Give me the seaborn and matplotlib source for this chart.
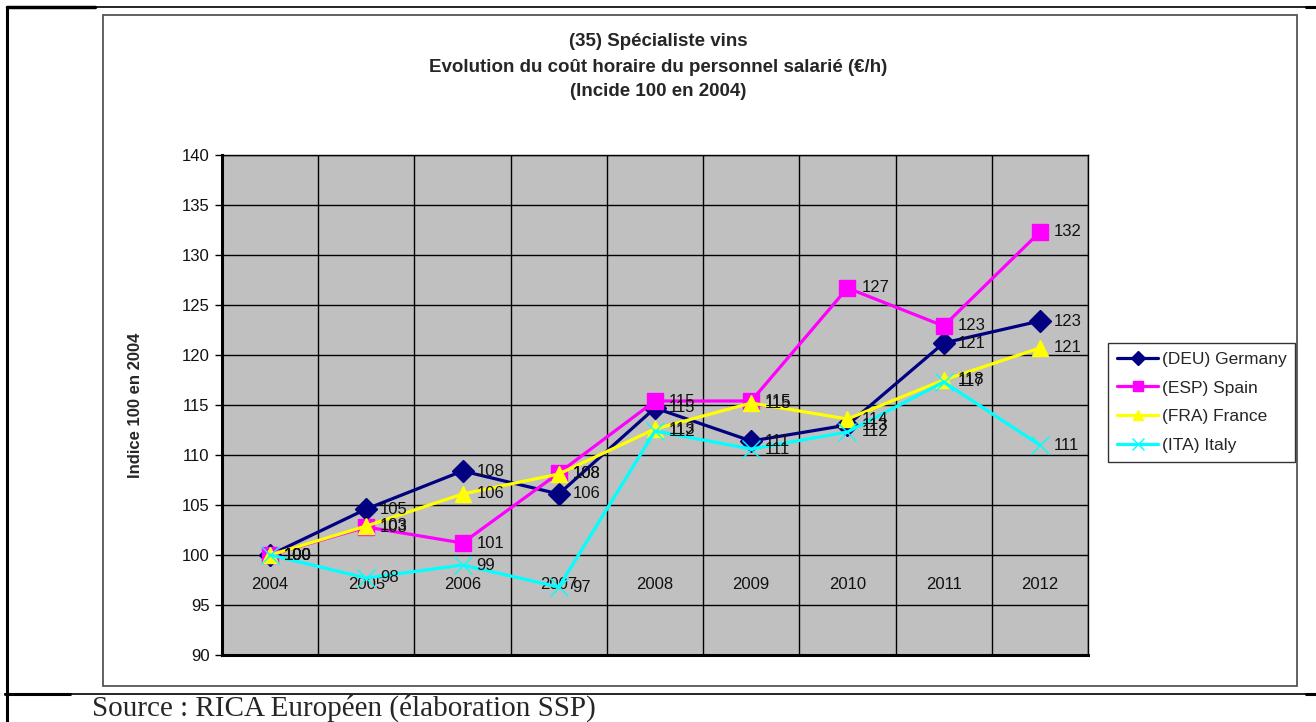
import matplotlib
matplotlib.use("Agg")
import matplotlib.pyplot as plt
import seaborn as sns
import pandas as pd
from matplotlib.lines import Line2D
from matplotlib.patches import Rectangle

years = ["2004", "2005", "2006", "2007", "2008", "2009", "2010", "2011", "2012"]
germany = [100, 104.6, 108.4, 106.1, 114.7, 111.4, 113.0, 121.2, 123.4]
spain = [100, 102.8, 101.2, 108.2, 115.4, 115.4, 126.7, 122.9, 132.3]
france = [100, 102.9, 106.1, 108.1, 112.6, 115.2, 113.6, 117.5, 120.7]
italy = [100, 97.7, 99.0, 96.8, 112.4, 110.6, 112.3, 117.3, 111.0]
series_names = ["(DEU) Germany", "(ESP) Spain", "(FRA) France", "(ITA) Italy"]
colors = ["#000080", "#FF00FF", "#FFFF00", "#00FFFF"]
marker_list = ["D", "s", "^", "x"]
yticks = list(range(90, 141, 5))

values = [germany, spain, france, italy]

sns.set_theme(style="white")
plt.rcParams["font.family"] = ["Liberation Sans", "DejaVu Sans"]

fig = plt.figure(figsize=(13.16, 7.22), dpi=100)
W, H = 1316, 722

def fx(p):
    return p / W

def fy(p):
    return 1 - p / H

# page frame lines
fig.add_artist(Line2D([fx(7), fx(1306)], [fy(7), fy(7)], color="black", lw=1.2))
fig.add_artist(Line2D([fx(7), fx(95)], [fy(7), fy(7)], color="black", lw=2.5))
fig.add_artist(Line2D([fx(6.5), fx(6.5)], [fy(7), fy(722)], color="black", lw=2.2))
fig.add_artist(Line2D([fx(5), fx(1306)], [fy(694), fy(694)], color="black", lw=1.2))
fig.add_artist(Line2D([fx(5), fx(70)], [fy(694), fy(694)], color="black", lw=2.2))
fig.add_artist(Line2D([fx(1306), fx(1316)], [fy(694), fy(694)], color="black", lw=2.2))
fig.add_artist(Line2D([fx(1306), fx(1316)], [fy(7), fy(7)], color="black", lw=2.2))
# chart box
fig.add_artist(Rectangle((fx(103), fy(686)), (1297 - 103) / W, (686 - 15) / H,
                         fill=False, edgecolor="#555555", lw=1.3))

ax = fig.add_axes([fx(222), fy(655), (1088 - 222) / W, (655 - 155) / H])
ax.set_facecolor("#C0C0C0")

for name, vals, c, m in zip(series_names, values, colors, marker_list):
    d = pd.DataFrame({"x": range(len(years)), "y": vals})
    if m == "x":
        sns.lineplot(data=d, x="x", y="y", color=c, lw=2.3, marker=m, markersize=13,
                     markeredgewidth=1.0, markeredgecolor=c, ax=ax)
    else:
        sns.lineplot(data=d, x="x", y="y", color=c, lw=2.3, marker=m, markersize=11,
                     markeredgewidth=1.0, markeredgecolor=c, ax=ax)

# data labels
for vals in values:
    for i, v in enumerate(vals):
        ax.annotate(f"{round(v):d}", (i, v), xytext=(10, 0), textcoords="offset points",
                    ha="left", va="center", fontsize=12, color="#111111")

ax.set_xlim(-0.5, len(years) - 0.5)
ax.set_ylim(90, 140)
ax.set_yticks(yticks)
ax.set_yticklabels([str(t) for t in yticks])
ax.set_xticks([i - 0.5 for i in range(len(years) + 1)])
ax.set_xticklabels([])
ax.tick_params(axis="x", length=0)
ax.tick_params(axis="y", length=5, width=1, color="black", direction="out",
               labelsize=12, pad=4, left=True, labelcolor="#111111")
ax.grid(True, color="black", lw=1.0)
ax.set_axisbelow(True)
for s in ["left", "bottom"]:
    ax.spines[s].set_color("black")
    ax.spines[s].set_linewidth(2.2)
for s in ["top", "right"]:
    ax.spines[s].set_color("black")
    ax.spines[s].set_linewidth(1.0)
ax.set_xlabel("")
ax.set_ylabel("Indice 100 en 2004", fontsize=12, fontweight="bold", labelpad=28)

# category labels at the 100 crossing
sec = ax.secondary_xaxis((100 - 90) / 50)
sec.set_xticks(range(len(years)))
sec.set_xticklabels(years)
sec.tick_params(length=0, labelsize=12, pad=16, colors="#111111")
sec.spines["bottom"].set_visible(False)

fig.text(0.5, fy(42), "(35) Spécialiste vins", ha="center", va="center",
         fontsize=13.5, fontweight="bold")
fig.text(0.5, fy(67), "Evolution du coût horaire du personnel salarié (€/h)", ha="center",
         va="center", fontsize=13.5, fontweight="bold")
fig.text(0.5, fy(92), "(Incide 100 en 2004)", ha="center", va="center",
         fontsize=13.5, fontweight="bold")

handles = [Line2D([0], [0], color=c, lw=2.3, marker=m, markersize=7 if m != "x" else 8,
                  markeredgecolor=c, markeredgewidth=1.0)
           for c, m in zip(colors, marker_list)]
leg = fig.legend(handles, series_names, loc="upper left",
                 bbox_to_anchor=(fx(1108), fy(343)), frameon=True, fontsize=12.5,
                 handlelength=2.4, handletextpad=0.2, labelspacing=0.78,
                 borderpad=0.5, borderaxespad=0, fancybox=False)
leg.get_frame().set_edgecolor("black")
leg.get_frame().set_linewidth(1.0)

fig.text(fx(92), fy(716), "Source : RICA Européen (élaboration SSP)", ha="left",
         va="baseline", fontsize=21, family=["Liberation Serif", "DejaVu Serif"])

fig.savefig("out.png", dpi=100)
